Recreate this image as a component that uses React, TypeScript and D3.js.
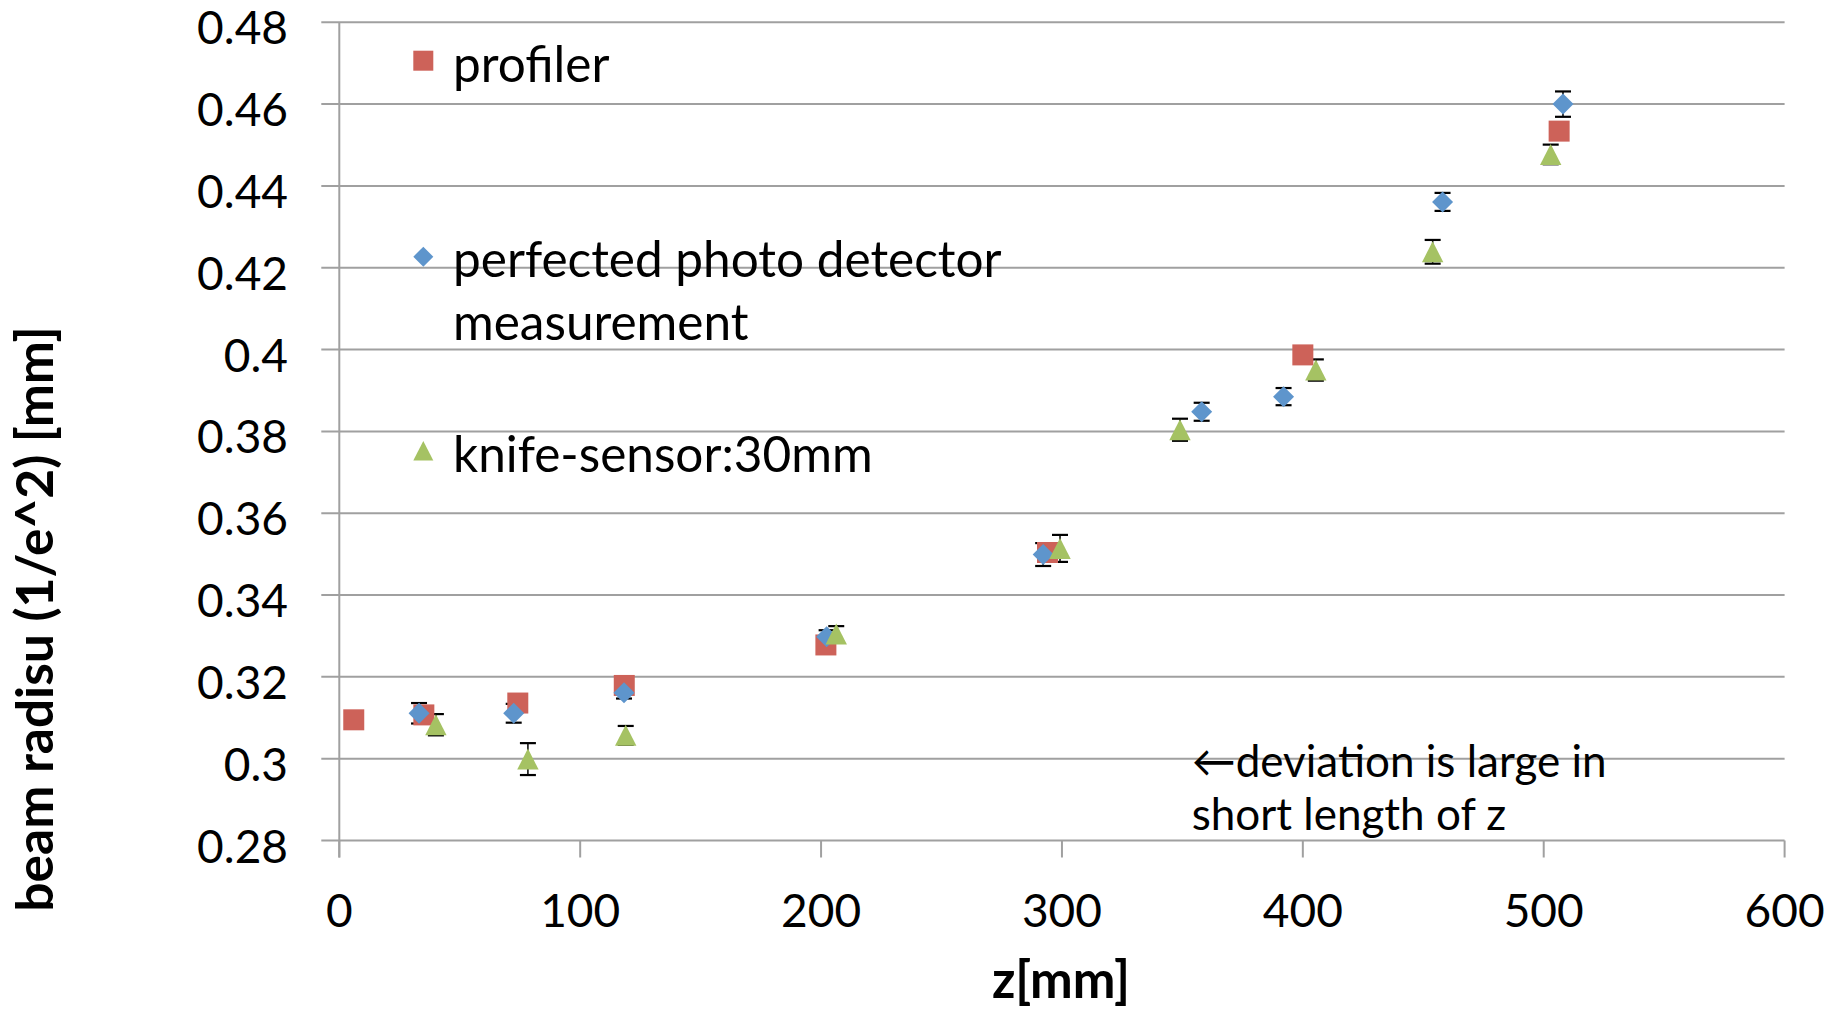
import React from "react";
import * as d3 from "d3";

const xTicks = [0, 100, 200, 300, 400, 500, 600];
const yTicks = [0.28, 0.3, 0.32, 0.34, 0.36, 0.38, 0.4, 0.42, 0.44, 0.46, 0.48];
const yTickLabels = ["0.28", "0.3", "0.32", "0.34", "0.36", "0.38", "0.4", "0.42", "0.44", "0.46", "0.48"];

const profilerZ = [6, 35.1, 74.1, 118.3, 202, 294, 400, 506.4];
const profilerR = [0.3095, 0.3107, 0.3136, 0.3179, 0.3278, 0.3504, 0.3987, 0.4534];

const photoZ = [33.1, 72.4, 118.2, 202.3, 292.2, 358, 392, 458, 508];
const photoR = [0.3111, 0.3111, 0.3161, 0.3298, 0.3499, 0.3848, 0.3885, 0.4361, 0.46];
const photoErr = [0.0025, 0.0023, 0.0014, 0.0016, 0.0028, 0.0022, 0.0021, 0.0022, 0.0031];

const knifeZ = [40.1, 78.3, 118.9, 206.3, 299.2, 349, 405.4, 453.9, 502.9];
const knifeR = [0.3083, 0.2999, 0.3057, 0.3305, 0.3514, 0.3804, 0.395, 0.4239, 0.4477];
const knifeErr = [0.0026, 0.0039, 0.0023, 0.0019, 0.0033, 0.0027, 0.0026, 0.0029, 0.0024];

const legendLabels = [["profiler"], ["perfected photo detector", "measurement"], ["knife-sensor:30mm"]];
const annotationLines = ["\u2190deviation is large in", "short length of z"];
const xTitle = "z[mm]";
const yTitle = "beam radisu (1/e^2) [mm]";

const RED = "#CD6259";
const BLUE = "#5E95CC";
const GREEN = "#A5C263";
const GRID = "#A0A0A0";
const FONT = "Lato, 'Open Sans', sans-serif";

const squarePath = "M-10.5,-10.5H10.5V10.5H-10.5Z";
const diamondPath = "M0,-10.5L10.5,0L0,10.5L-10.5,0Z";
const trianglePath = "M0,-10.5L10.7,10.5L-10.7,10.5Z";

export default function App() {
  const x = d3.scaleLinear().domain([0, 600]).range([339.3, 1784.6]);
  const y = d3.scaleLinear().domain([0.28, 0.48]).range([840.5, 22.3]);
  const left = x(0);
  const right = x(600);
  const bottom = y(0.28);

  const errSeries = [
    { z: photoZ, r: photoR, e: photoErr },
    { z: knifeZ, r: knifeR, e: knifeErr },
  ];

  return (
    <svg
      width={1841}
      height={1009}
      style={{ position: "absolute", left: 0, top: 0, background: "#fff" }}
      fontFamily={FONT}
    >
      <rect x={0} y={0} width={1841} height={1009} fill="#fff" />
      {/* gridlines */}
      {yTicks.map((t) => (
        <line key={"g" + t} x1={left - 18} x2={right} y1={y(t)} y2={y(t)} stroke={GRID} strokeWidth={2} />
      ))}
      {/* y axis */}
      <line x1={left} x2={left} y1={y(0.48)} y2={bottom + 17} stroke={GRID} strokeWidth={2} />
      {/* x ticks */}
      {xTicks.map((t) => (
        <line key={"xt" + t} x1={x(t)} x2={x(t)} y1={bottom} y2={bottom + 17} stroke={GRID} strokeWidth={2} />
      ))}
      {/* y tick labels */}
      {yTicks.map((t, i) => (
        <text key={"yl" + t} x={288} y={y(t) + 22} textAnchor="end" fontSize={46} fill="#000">
          {yTickLabels[i]}
        </text>
      ))}
      {/* x tick labels */}
      {xTicks.map((t) => (
        <text key={"xl" + t} x={x(t)} y={927} textAnchor="middle" fontSize={46} fill="#000">
          {t}
        </text>
      ))}
      {/* axis titles */}
      <text x={1061} y={998} textAnchor="middle" fontSize={51} fontWeight="bold" fill="#000">
        {xTitle}
      </text>
      <text
        transform={`translate(53,619) rotate(-90)`}
        textAnchor="middle"
        fontSize={51.5}
        fontWeight="bold"
        fill="#000"
      >
        {yTitle}
      </text>
      {/* error bars */}
      {errSeries.map((s, si) =>
        s.z.map((zv, i) => {
          const cx = x(zv);
          const y1 = y(s.r[i] + s.e[i]);
          const y2 = y(s.r[i] - s.e[i]);
          return (
            <g key={"e" + si + "-" + i} stroke="#000">
              <line x1={cx} x2={cx} y1={y1} y2={y2} strokeWidth={1.5} />
              <line x1={cx - 8} x2={cx + 8} y1={y1} y2={y1} strokeWidth={2.2} />
              <line x1={cx - 8} x2={cx + 8} y1={y2} y2={y2} strokeWidth={2.2} />
            </g>
          );
        })
      )}
      {/* markers */}
      {profilerZ.map((zv, i) => (
        <path key={"p" + i} d={squarePath} transform={`translate(${x(zv)},${y(profilerR[i])})`} fill={RED} />
      ))}
      {photoZ.map((zv, i) => (
        <path key={"d" + i} d={diamondPath} transform={`translate(${x(zv)},${y(photoR[i])})`} fill={BLUE} />
      ))}
      {knifeZ.map((zv, i) => (
        <path key={"k" + i} d={trianglePath} transform={`translate(${x(zv)},${y(knifeR[i])})`} fill={GREEN} />
      ))}
      {/* legend */}
      <path d={"M-10,-10H10V10H-10Z"} transform="translate(423.3,60.7)" fill={RED} />
      <path d={"M0,-10L10,0L0,10L-10,0Z"} transform="translate(423.3,256.7)" fill={BLUE} />
      <path d={"M0,-10L10,9.5L-10,9.5Z"} transform="translate(423.3,451)" fill={GREEN} />
      {[81.7, 276.7, 471.7].map((by, li) =>
        legendLabels[li].map((ln, k) => (
          <text key={"lg" + li + k} x={453} y={by + k * 63.3} fontSize={49.5} fill="#000">
            {ln}
          </text>
        ))
      )}
      {/* annotation */}
      {annotationLines.map((ln, k) => (
        <text key={"an" + k} x={1191.7} y={776.7 + k * 53.3} fontSize={44} fill="#000">
          {ln}
        </text>
      ))}
    </svg>
  );
}
